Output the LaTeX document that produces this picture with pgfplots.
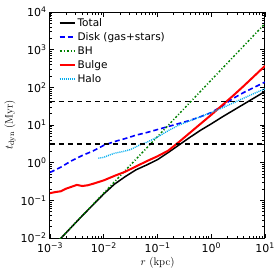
\documentclass[border=0pt]{standalone}
\usepackage{fontspec}
\setsansfont{DejaVu Sans}
\usepackage{pgfplots}
\pgfplotsset{compat=1.18}
\definecolor{bhgreen}{rgb}{0,0.5,0}
\begin{document}
\begin{tikzpicture}
\useasboundingbox (-50pt,-39pt) rectangle (227pt,238pt);
\begin{axis}[
  at={(0pt,0pt)}, anchor=south west,
  scale only axis, width=215pt, height=226pt,
  xmode=log, ymode=log,
  xmin=1e-3, xmax=10, ymin=1e-2, ymax=1e4,
  xtick={1e-3,1e-2,1e-1,1,10},
  xticklabels={10\textsuperscript{−3},10\textsuperscript{−2},10\textsuperscript{−1},10\textsuperscript{0},10\textsuperscript{1}},
  ytick={1e-2,1e-1,1,10,100,1000,10000},
  yticklabels={10\textsuperscript{−2},10\textsuperscript{−1},10\textsuperscript{0},10\textsuperscript{1},10\textsuperscript{2},10\textsuperscript{3},10\textsuperscript{4}},
  minor xtick={2e-3,3e-3,4e-3,5e-3,6e-3,7e-3,8e-3,9e-3,2e-2,3e-2,4e-2,5e-2,6e-2,7e-2,8e-2,9e-2,0.2,0.3,0.4,0.5,0.6,0.7,0.8,0.9,2,3,4,5,6,7,8,9},
  minor ytick={0.02,0.03,0.04,0.05,0.06,0.07,0.08,0.09,0.2,0.3,0.4,0.5,0.6,0.7,0.8,0.9,2,3,4,5,6,7,8,9,20,30,40,50,60,70,80,90,200,300,400,500,600,700,800,900,2000,3000,4000,5000,6000,7000,8000,9000},
  tick label style={font=\sffamily\fontsize{11}{12}\selectfont},
  xticklabel style={yshift=-1pt},
  major tick length=4.5pt, minor tick length=2.5pt,
  tick style={black, line width=0.6pt},
  axis line style={line width=1pt},
  xlabel={$r$ (kpc)}, ylabel={$t_{\mathrm{dyn}}$ (Myr)},
  label style={font=\fontsize{11}{12}\selectfont},
  xlabel style={yshift=2pt},
  ylabel style={yshift=-2pt},
  legend style={at={(0.025,0.99)}, anchor=north west, draw=none, fill=none,
    font=\sffamily\fontsize{10.5}{12}\selectfont, row sep=0.6pt},
  legend cell align=left,
  legend image code/.code={\draw[#1] plot coordinates {(0pt,0pt) (15pt,0pt)};},
]
\addplot[black, line width=1.5pt] coordinates {
(1e-3,0.0049) (1.585e-3,0.00977) (2.512e-3,0.0195) (3.981e-3,0.0389) (6.310e-3,0.0759)
(0.01,0.148) (0.01585,0.269) (0.02512,0.427) (0.03981,0.646) (0.0631,0.871)
(0.1,1.202) (0.1585,1.862) (0.2512,2.951) (0.3981,4.677) (0.631,7.244)
(1,10.72) (1.585,16.22) (2.512,23.99) (3.981,35.48) (6.31,52.48) (10,77.62)};
\addlegendentry{Total}
\addplot[blue, line width=1.6pt, dash pattern=on 5pt off 3pt] coordinates {
(1e-3,0.5495) (1.585e-3,0.7586) (2.512e-3,1.122) (3.981e-3,1.549) (6.310e-3,2.042)
(0.01,2.884) (0.01585,3.631) (0.02512,4.365) (0.03981,5.370) (0.0631,6.310)
(0.1,7.586) (0.1585,9.120) (0.2512,10.96) (0.3981,13.18) (0.631,16.60)
(1,21.38) (1.585,31.62) (2.512,50.12) (3.981,72.44) (6.31,100) (10,138.0)};
\addlegendentry{Disk (gas+stars)}
\addplot[bhgreen, line width=1.5pt, dash pattern=on 2pt off 2pt on 1pt off 2pt] coordinates {
(1e-3,0.00493) (10,4924)};
\addlegendentry{BH}
\addplot[red, line width=2pt] coordinates {
(1e-3,0.1549) (1.259e-3,0.166) (1.585e-3,0.174) (1.995e-3,0.204) (2.512e-3,0.229)
(3.162e-3,0.257) (3.981e-3,0.240) (5.012e-3,0.251) (6.310e-3,0.275)
(0.01,0.339) (0.01585,0.4467) (0.02512,0.5754) (0.03981,0.7943) (0.0631,1.096)
(0.1,1.479) (0.1585,2.089) (0.2512,3.548) (0.3981,6.166) (0.631,10.72)
(1,18.62) (1.585,33.11) (2.512,58.88) (3.981,107.2) (6.31,199.5) (10,371.5)};
\addlegendentry{Bulge}
\addplot[cyan, line width=1.4pt, dash pattern=on 1pt off 1pt] coordinates {
(7.943e-3,1.318) (0.01,1.380) (0.01259,1.585) (0.01585,1.778) (0.01995,1.905)
(0.02512,2.042) (0.03162,2.239) (0.03981,2.630) (0.05012,3.090) (0.0631,3.467)
(0.1,4.786) (0.1585,7.079) (0.2512,10) (0.3981,12.88) (0.631,16.60)
(1,21.38) (1.585,28.18) (2.512,38.02) (3.981,51.29) (6.31,69.18) (10,91.20)};
\addlegendentry{Halo}
\addplot[black, line width=1.5pt, dash pattern=on 5pt off 4pt, forget plot] coordinates {(1e-3,42) (10,42)};
\addplot[black, line width=1.5pt, dash pattern=on 5pt off 4pt, forget plot] coordinates {(1e-3,3.1) (10,3.1)};
\end{axis}
\end{tikzpicture}
\end{document}
